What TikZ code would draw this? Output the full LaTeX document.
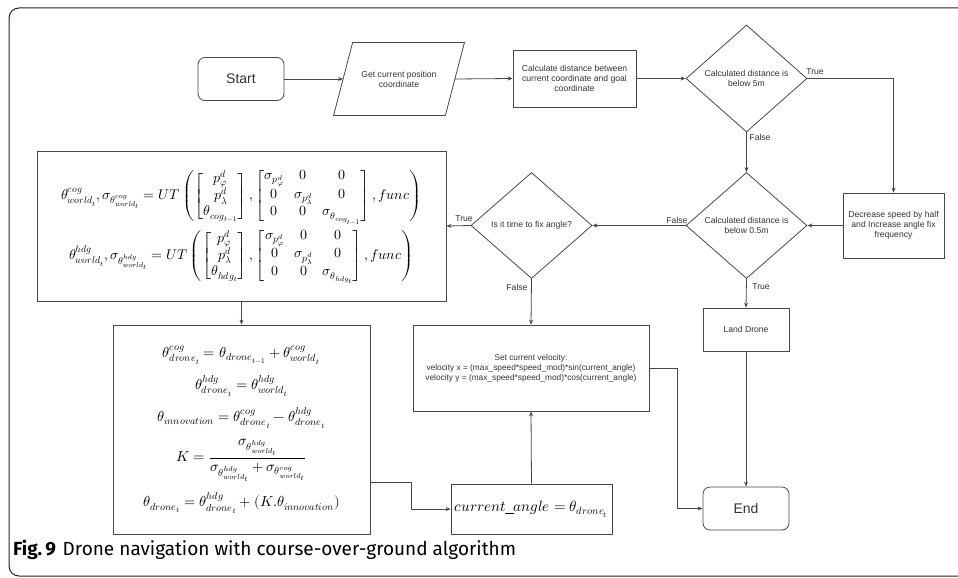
\documentclass[tikz,border=0pt]{standalone}
\usepackage{amsmath}
\usepackage{fontspec}
\usepackage{unicode-math}
\setmainfont{Liberation Sans}
\setmathfont{Latin Modern Math}
\newfontfamily\capfont{Fira Sans}
\usetikzlibrary{arrows.meta,shapes.geometric}
\begin{document}
\begin{tikzpicture}[x=1pt,y=-1pt,
  line/.style={draw=black!72, line width=0.8pt},
  arr/.style={line, -{Stealth[length=5pt,width=4pt]}},
  box/.style={line, rectangle, inner sep=0pt, align=center, text=black!80, font=\fontsize{8.6}{10}\selectfont},
  term/.style={box, rounded corners=7pt, font=\fontsize{14}{16}\selectfont},
  dia/.style={line, diamond, inner sep=0pt},
  lab/.style={font=\fontsize{8.6}{10}\selectfont, inner sep=0pt, text=black!80, align=center},
  mathbox/.style={line, rectangle, inner sep=0pt, align=center, font=\fontsize{14}{16}\selectfont},
]
\useasboundingbox (0,0) rectangle (958,578);
\draw[black!85, line width=1pt, rounded corners=10pt] (958,8) -- (9,8) -- (9,576) -- (958,576);

% nodes
\node[term, minimum width=86pt, minimum height=43pt] (start) at (241,79) {Start};
\node[box, draw=none, minimum width=111pt, minimum height=72pt] (get) at (399,79) {Get current position\\coordinate};
\draw[line] ([xshift=9.5pt]get.north west) -- ([xshift=9.5pt]get.north east) -- ([xshift=-9.5pt]get.south east) -- ([xshift=-9.5pt]get.south west) -- cycle;
\node[box, minimum width=123pt, minimum height=57pt] (calc) at (574.5,78.5) {Calculate distance between\\current coordinate and goal\\coordinate};
\node[dia, minimum width=121pt, minimum height=107pt, label={[lab]center:Calculated distance is\\below 5m}] (d1) at (746.5,78.5) {};
\node[dia, minimum width=121pt, minimum height=106pt, label={[lab]center:Calculated distance is\\below 0.5m}] (d2) at (746.5,225.5) {};
\node[box, minimum width=101pt, minimum height=65pt] (dec) at (893.5,225.5) {Decrease speed by half\\and Increase angle fix\\frequency};
\node[dia, minimum width=121pt, minimum height=106pt, label={[lab]center:Is it time to fix angle?}] (d3) at (531.5,225.5) {};
\node[box, minimum width=86pt, minimum height=43pt] (land) at (746,329.5) {Land Drone};
\node[term, minimum width=86pt, minimum height=43pt] (end) at (746,508.5) {End};
\node[box, minimum width=236pt, minimum height=86pt, font=\fontsize{8.3}{10}\selectfont] (vel) at (531,368) {Set current velocity:\\velocity x = (max\_speed*speed\_mod)*sin(current\_angle)\\velocity y = (max\_speed*speed\_mod)*cos(current\_angle)};
\node[mathbox, minimum width=161pt, minimum height=50pt, font=\fontsize{15}{17}\selectfont] (ca) at (531.5,509) {$current\_angle=\theta_{drone_t}$};

\node[mathbox, minimum width=409pt, minimum height=150pt] (ut) at (241.5,226) {$\begin{gathered}
\theta^{cog}_{world_t},\sigma_{\theta^{cog}_{world_t}} = UT\left(\begin{bmatrix} p^d_\varphi\\ p^d_\lambda\\ \theta_{cog_{t-1}}\end{bmatrix},\begin{bmatrix}\sigma_{p^d_\varphi} & 0 & 0\\ 0 & \sigma_{p^d_\lambda} & 0\\ 0 & 0 & \sigma_{\theta_{cog_{t-1}}}\end{bmatrix},func\right)\\
\theta^{hdg}_{world_t},\sigma_{\theta^{hdg}_{world_t}} = UT\left(\begin{bmatrix} p^d_\varphi\\ p^d_\lambda\\ \theta_{hdg_{t}}\end{bmatrix},\begin{bmatrix}\sigma_{p^d_\varphi} & 0 & 0\\ 0 & \sigma_{p^d_\lambda} & 0\\ 0 & 0 & \sigma_{\theta_{hdg_{t}}}\end{bmatrix},func\right)
\end{gathered}$};

\node[mathbox, minimum width=257pt, minimum height=209pt, font=\fontsize{14.5}{17}\selectfont] (cog) at (241.5,429.5) {$\begin{gathered}
\theta^{cog}_{drone_t} = \theta_{drone_{t-1}} + \theta^{cog}_{world_t}\\[7pt]
\theta^{hdg}_{drone_t} = \theta^{hdg}_{world_t}\\[7pt]
\theta_{innovation} = \theta^{cog}_{drone_t} - \theta^{hdg}_{drone_t}\\[7pt]
K = \frac{\sigma_{\theta^{hdg}_{world_t}}}{\sigma_{\theta^{hdg}_{world_t}} + \sigma_{\theta^{cog}_{world_t}}}\\[7pt]
\theta_{drone_t} = \theta^{hdg}_{drone_t} + (K.\theta_{innovation})
\end{gathered}$};

% connectors
\draw[arr] (start.east) -- (get.west);
\draw[arr] (get.east) -- (calc.west);
\draw[arr] (calc.east) -- (d1.west);
\draw[arr] (d1.east) -| (dec.north);
\draw[arr] (d1.south) -- (d2.north);
\draw[arr] (dec.west) -- (d2.east);
\draw[arr] (d2.west) -- (d3.east);
\draw[arr] (d2.south) -- (land.north);
\draw[arr] (land.south) -- (end.north);
\draw[arr] (d3.west) -- (ut.east);
\draw[arr] (d3.south) -- (vel.north);
\draw[arr] (ut.south) -- (cog.north);
\draw[arr] ([yshift=-52.5pt]cog.east) -- ++(41,0) |- (ca.west);
\draw[arr] (ca.north) -- (vel.south);
\draw[arr] (vel.east) -- ++(28,0) |- (end.west);

% labels
\node[lab] (t1) at (815,72) {True};
\node[lab] (f1) at (760,137) {False};
\node[lab] (f2) at (677,220) {False};
\node[lab] (t2) at (761,287) {True};
\node[lab] (t3) at (464,219) {True};
\node[lab] (f3) at (517,287) {False};

% caption
\node[anchor=west, inner sep=0pt, font=\capfont\fontsize{19}{22}\selectfont] (cap) at (13,550) {\textbf{Fig.\,9}\hspace{0.35em}Drone navigation with course-over-ground algorithm};
\end{tikzpicture}
\end{document}
